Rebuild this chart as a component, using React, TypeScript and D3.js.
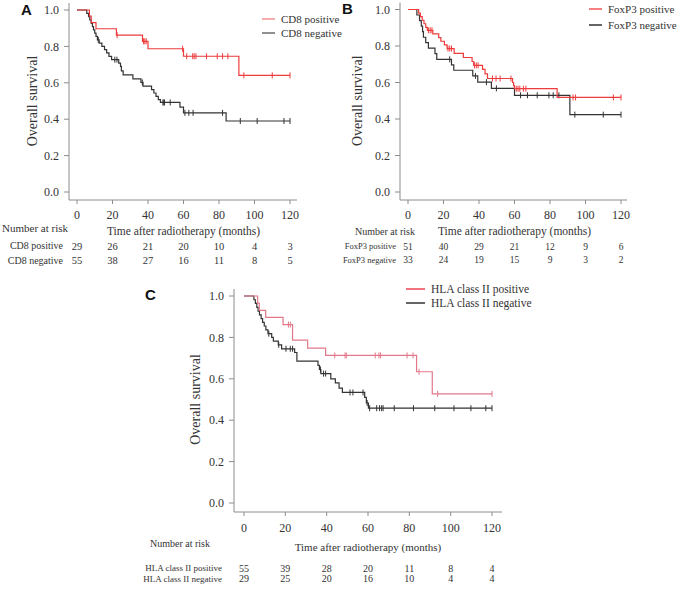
import { useRef, useEffect } from 'react';
import * as d3 from 'd3';

type Step = [number, number];

const timeTicks = [0, 20, 40, 60, 80, 100, 120];
const survTicks = [0, 0.2, 0.4, 0.6, 0.8, 1.0];

// Panel A - CD8
const cd8PosSteps: Step[] = [
  [7, 0.966], [8, 0.931], [10.7, 0.897], [22.2, 0.862], [36.9, 0.828],
  [40, 0.787], [60, 0.746], [91.2, 0.641],
];
const cd8PosCensor = [22.6, 37.5, 38.2, 39, 59.5, 61.8, 65.2, 66, 67, 73, 79, 82, 85, 94, 110, 120];
const cd8NegSteps: Step[] = [
  [5.5, 0.982], [6.5, 0.964], [7.2, 0.945], [8, 0.927], [8.7, 0.909], [9.3, 0.891],
  [10, 0.873], [10.7, 0.855], [11.5, 0.836], [12.5, 0.818], [14, 0.8], [15.5, 0.782],
  [16.7, 0.764], [18, 0.745], [19.5, 0.727], [23.5, 0.708], [24.5, 0.69], [25, 0.665],
  [26, 0.643], [31.5, 0.622], [36, 0.602], [37.2, 0.582], [42, 0.563], [43.3, 0.544],
  [44.5, 0.525], [45.8, 0.508], [47, 0.492], [58, 0.466], [60, 0.435], [84, 0.39],
];
const cd8NegCensor = [12, 21.3, 22.5, 36.8, 48.4, 48.9, 49.3, 52.5, 60.8, 63, 65.4, 82, 92, 101.5, 116.6, 120];
const cd8PosRisk = [29, 26, 21, 20, 10, 4, 3];
const cd8NegRisk = [55, 38, 27, 16, 11, 8, 5];

// Panel B - FoxP3
const foxPosSteps: Step[] = [
  [6, 0.98], [7, 0.961], [8, 0.941], [9, 0.922], [10, 0.902], [10.9, 0.886],
  [14, 0.866], [17.3, 0.846], [18.5, 0.826], [20.5, 0.806], [22, 0.786], [26, 0.76],
  [31.2, 0.737], [36.1, 0.715], [37, 0.694], [42, 0.672], [43.4, 0.647], [44.8, 0.622],
  [58.9, 0.6], [59.5, 0.583], [60, 0.566], [84, 0.518],
];
const foxPosCensor = [11.5, 12.5, 13.5, 22.5, 23.5, 24.5, 37.5, 38.5, 39.5, 47.6, 49.6, 51.9, 58, 61, 62, 63, 65, 66.4, 93, 94.4, 115.7, 120];
const foxNegSteps: Step[] = [
  [5, 0.97], [6.5, 0.939], [7.5, 0.909], [8.2, 0.879], [8.7, 0.848], [10, 0.818],
  [11.5, 0.788], [15.2, 0.758], [16.2, 0.727], [24.5, 0.697], [25.8, 0.667],
  [36.5, 0.636], [39.3, 0.602], [47, 0.568], [60, 0.53], [91.2, 0.424],
];
const foxNegCensor = [23.5, 38, 44.2, 49.8, 63.4, 67.3, 72.8, 79.4, 81.8, 85, 94, 110, 120];
const foxPosRisk = [51, 40, 29, 21, 12, 9, 6];
const foxNegRisk = [33, 24, 19, 15, 9, 3, 2];

// Panel C - HLA class II
const hlaPosSteps: Step[] = [
  [6.6, 0.966], [7.4, 0.931], [10.5, 0.897], [18.9, 0.862], [23.5, 0.787],
  [30.8, 0.748], [39.5, 0.713], [83.5, 0.634], [91.1, 0.527],
];
const hlaPosCensor = [21.5, 22.4, 43.9, 48.9, 49.5, 63.5, 65.3, 66.1, 78.9, 81.8, 84.7, 93.7, 120];
const hlaNegSteps: Step[] = [
  [4.8, 0.982], [5.5, 0.964], [6.2, 0.945], [6.8, 0.927], [7.5, 0.909], [8.3, 0.891],
  [9, 0.873], [9.8, 0.855], [10.6, 0.836], [11.6, 0.818], [13.4, 0.8], [14.2, 0.782],
  [16.6, 0.764], [18.2, 0.745], [24.5, 0.727], [25.6, 0.685], [35.8, 0.665],
  [36.5, 0.645], [37.2, 0.625], [42, 0.6], [44.2, 0.58], [46, 0.555], [47.6, 0.534],
  [58.4, 0.51], [59.2, 0.483], [60.2, 0.458],
];
const hlaNegCensor = [12, 16.8, 20.3, 22.4, 23.5, 37, 38.5, 39.5, 51.3, 52.7, 57.6, 59.6, 60.8, 64.2, 65.6, 66.6, 67.3, 72.7, 82, 92.3, 101.6, 109.8, 117, 120];
const hlaPosRisk = [55, 39, 28, 20, 11, 8, 4];
const hlaNegRisk = [29, 25, 20, 16, 10, 4, 4];

const SERIF = '"Liberation Serif", "Times New Roman", serif';
const SANS = '"Liberation Sans", Arial, sans-serif';
const AXIS = '#8c8c8c';
const TEXT = '#333';
const RED = '#ee3b3b';
const DARK = '#333';

interface Series {
  name: string;
  steps: Step[];
  censor: number[];
  risk: number[];
  color: string;
  legendColor: string;
}

interface Panel {
  letter: string;
  letterX: number;
  letterY: number;
  axisX: number;       // y axis line position
  xRange: [number, number];
  yRange: [number, number]; // [y(0), y(1)]
  axisY: number;       // x axis line position
  axisEnd: number;
  tickLabelY: number;
  yLabelX: number;
  legendX: [number, number];
  legendY: number[];
  legendSize: number;
  titleY: number;
  titleSize: number;
  narX: number;
  narY: number;
  narSize: number;
  rowLabelX: number;
  rowY: number[];
  rowLabelSize: number;
  rowNumSize: number;
  series: Series[];
}

const survAt = (steps: Step[], t: number) => {
  let s = 1;
  for (const [et, es] of steps) if (et <= t) s = es;
  return s;
};

const panels: Panel[] = [
  {
    letter: 'A', letterX: 21, letterY: 15,
    axisX: 69, xRange: [77, 290], yRange: [192, 10], axisY: 200, axisEnd: 297,
    tickLabelY: 219, yLabelX: 37,
    legendX: [262, 275], legendY: [19, 33], legendSize: 11,
    titleY: 235, titleSize: 11.5,
    narX: 2, narY: 232, narSize: 11,
    rowLabelX: 63, rowY: [249, 264], rowLabelSize: 10, rowNumSize: 10.5,
    series: [
      { name: 'CD8 positive', steps: cd8PosSteps, censor: cd8PosCensor, risk: cd8PosRisk, color: RED, legendColor: '#f08080' },
      { name: 'CD8 negative', steps: cd8NegSteps, censor: cd8NegCensor, risk: cd8NegRisk, color: DARK, legendColor: '#555' },
    ],
  },
  {
    letter: 'B', letterX: 342, letterY: 14,
    axisX: 400, xRange: [408, 621], yRange: [192, 9.5], axisY: 200, axisEnd: 627,
    tickLabelY: 219, yLabelX: 362,
    legendX: [589, 602], legendY: [9, 25], legendSize: 11,
    titleY: 235, titleSize: 11.5,
    narX: 355, narY: 235, narSize: 10,
    rowLabelX: 396, rowY: [249, 263], rowLabelSize: 8.5, rowNumSize: 9.5,
    series: [
      { name: 'FoxP3 positive', steps: foxPosSteps, censor: foxPosCensor, risk: foxPosRisk, color: RED, legendColor: RED },
      { name: 'FoxP3 negative', steps: foxNegSteps, censor: foxNegCensor, risk: foxNegRisk, color: DARK, legendColor: '#111' },
    ],
  },
  {
    letter: 'C', letterX: 145, letterY: 300,
    axisX: 234, xRange: [244, 492], yRange: [503, 296], axisY: 512, axisEnd: 502,
    tickLabelY: 532, yLabelX: 200,
    legendX: [406, 425], legendY: [289, 303], legendSize: 11.5,
    titleY: 551, titleSize: 11,
    narX: 150, narY: 547, narSize: 10,
    rowLabelX: 222, rowY: [571, 582], rowLabelSize: 9, rowNumSize: 10,
    series: [
      { name: 'HLA class II positive', steps: hlaPosSteps, censor: hlaPosCensor, risk: hlaPosRisk, color: '#e2788a', legendColor: '#e8283a' },
      { name: 'HLA class II negative', steps: hlaNegSteps, censor: hlaNegCensor, risk: hlaNegRisk, color: DARK, legendColor: '#111' },
    ],
  },
];

function drawPanel(root: d3.Selection<SVGSVGElement, unknown, null, undefined>, p: Panel) {
  const g = root.append('g');
  const x = d3.scaleLinear().domain([0, 120]).range(p.xRange);
  const y = d3.scaleLinear().domain([0, 1]).range(p.yRange);

  // panel letter
  g.append('text')
    .attr('x', p.letterX).attr('y', p.letterY)
    .style('font-family', SANS).style('font-weight', 'bold').style('font-size', '15px')
    .style('fill', '#111')
    .text(p.letter);

  // y axis
  g.append('line')
    .attr('x1', p.axisX).attr('x2', p.axisX)
    .attr('y1', y(1) - 7).attr('y2', p.axisY)
    .attr('stroke', AXIS).attr('stroke-width', 1);
  survTicks.forEach(t => {
    g.append('line')
      .attr('x1', p.axisX - 5).attr('x2', p.axisX)
      .attr('y1', y(t)).attr('y2', y(t))
      .attr('stroke', AXIS);
    g.append('text')
      .attr('x', p.axisX - 10).attr('y', y(t)).attr('dy', '0.35em')
      .attr('text-anchor', 'end')
      .style('font-family', SERIF).style('font-size', '12px').style('fill', TEXT)
      .text(t.toFixed(1));
  });

  // x axis
  g.append('line')
    .attr('x1', p.axisX).attr('x2', p.axisEnd)
    .attr('y1', p.axisY).attr('y2', p.axisY)
    .attr('stroke', AXIS);
  timeTicks.forEach(t => {
    g.append('line')
      .attr('x1', x(t)).attr('x2', x(t))
      .attr('y1', p.axisY).attr('y2', p.axisY + 4)
      .attr('stroke', AXIS);
    g.append('text')
      .attr('x', x(t)).attr('y', p.tickLabelY)
      .attr('text-anchor', 'middle')
      .style('font-family', SERIF).style('font-size', '12px').style('fill', TEXT)
      .text(t);
  });

  // axis titles
  const yMid = (y(0) + y(1)) / 2;
  g.append('text')
    .attr('transform', `translate(${p.yLabelX},${yMid}) rotate(-90)`)
    .attr('text-anchor', 'middle')
    .style('font-family', SERIF).style('font-size', '14px').style('fill', TEXT)
    .text('Overall survival');
  g.append('text')
    .attr('x', (x(0) + x(120)) / 2).attr('y', p.titleY)
    .attr('text-anchor', 'middle')
    .style('font-family', SERIF).style('font-size', `${p.titleSize}px`).style('fill', TEXT)
    .text('Time after radiotherapy (months)');

  // curves
  const line = d3.line<Step>()
    .x(d => x(d[0]))
    .y(d => y(d[1]))
    .curve(d3.curveStepAfter);

  // draw negative first so positive sits on top
  [...p.series].reverse().forEach(s => {
    const last = s.steps[s.steps.length - 1];
    const end = Math.max(last[0], ...s.censor);
    const pts: Step[] = [[0, 1], ...s.steps, [end, last[1]]];
    g.append('path')
      .attr('d', line(pts) || '')
      .attr('fill', 'none')
      .attr('stroke', s.color)
      .attr('stroke-width', 1.2);
    s.censor.forEach(c => {
      const lv = survAt(s.steps, c);
      g.append('line')
        .attr('x1', x(c)).attr('x2', x(c))
        .attr('y1', y(lv) - 3).attr('y2', y(lv) + 3)
        .attr('stroke', s.color).attr('stroke-width', 1);
    });
  });

  // legend
  p.series.forEach((s, i) => {
    g.append('line')
      .attr('x1', p.legendX[0]).attr('x2', p.legendX[1])
      .attr('y1', p.legendY[i]).attr('y2', p.legendY[i])
      .attr('stroke', s.legendColor).attr('stroke-width', 1.3);
    g.append('text')
      .attr('x', p.legendX[1] + 6).attr('y', p.legendY[i]).attr('dy', '0.35em')
      .style('font-family', SERIF).style('font-size', `${p.legendSize}px`).style('fill', TEXT)
      .text(s.name);
  });

  // number at risk table
  g.append('text')
    .attr('x', p.narX).attr('y', p.narY)
    .style('font-family', SERIF).style('font-size', `${p.narSize}px`).style('fill', TEXT)
    .text('Number at risk');
  p.series.forEach((s, i) => {
    g.append('text')
      .attr('x', p.rowLabelX).attr('y', p.rowY[i])
      .attr('text-anchor', 'end')
      .style('font-family', SERIF).style('font-size', `${p.rowLabelSize}px`).style('fill', TEXT)
      .text(s.name);
    s.risk.forEach((n, j) => {
      g.append('text')
        .attr('x', x(timeTicks[j])).attr('y', p.rowY[i] + (i === 0 ? 1 : 0))
        .attr('text-anchor', 'middle')
        .style('font-family', SERIF).style('font-size', `${p.rowNumSize}px`).style('fill', TEXT)
        .text(n);
    });
  });
}

export default function App() {
  const svgRef = useRef<SVGSVGElement>(null);

  useEffect(() => {
    if (!svgRef.current) return;
    const svg = d3.select(svgRef.current);
    svg.selectAll('*').remove();
    panels.forEach(p => drawPanel(svg, p));
  }, []);

  return (
    <div style={{ position: 'absolute', left: 0, top: 0, background: '#fff' }}>
      <svg ref={svgRef} width={677} height={596} style={{ display: 'block' }} />
    </div>
  );
}
